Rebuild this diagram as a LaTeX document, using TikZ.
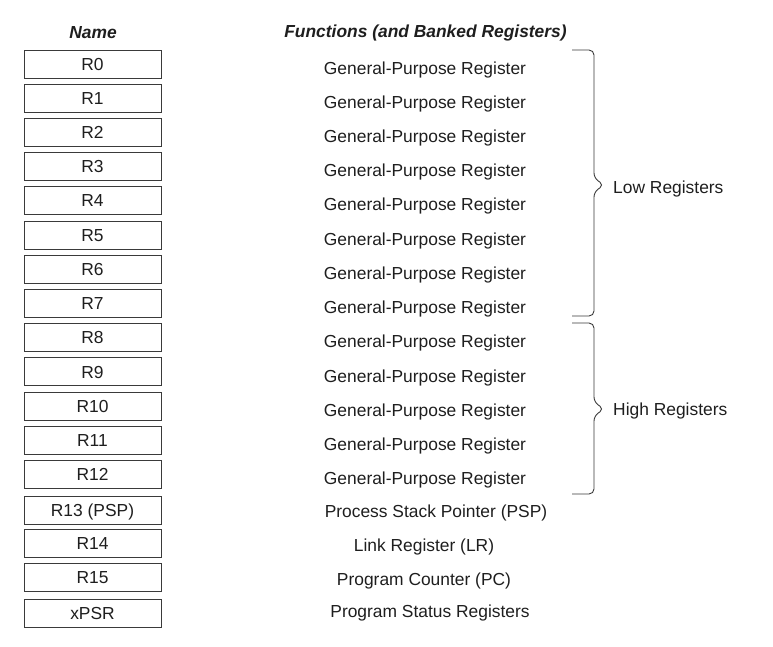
\documentclass[tikz,border=0pt]{standalone}
\usepackage{fontspec}
\setmainfont{Liberation Sans}
\usepackage{tikz}
\usetikzlibrary{positioning}

\definecolor{inkc}{HTML}{1E1E1E}
\definecolor{linec}{HTML}{3A3A3A}

\tikzset{
  regbox/.style={draw=linec, line width=0.9pt, minimum width=137pt, minimum height=28pt,
    text height=12.4pt, text depth=0pt, inner sep=0pt},
  fn/.style={text height=12.4pt, text depth=0pt, inner sep=0pt},
  head/.style={font=\fontsize{17.4}{20}\selectfont\bfseries\itshape},
  brace/.style={draw=linec, line width=0.9pt, rounded corners=5pt}
}

\begin{document}
\begin{tikzpicture}[x=1pt, y=-1pt, every node/.style={font=\fontsize{17.4}{20}\selectfont, text=inkc}]
	\useasboundingbox (0,0) rectangle (773,647);
	\node[head, text=inkc] (hname) at (93,33) {Name};
	\node[head, text=inkc] (hfunc) at (425.5,33) {Functions (and Banked Registers)};
	% general-purpose rows
	\foreach \i in {0,...,12} {
		\pgfmathsetmacro\yy{64+34.2*\i}
		\node[regbox] (r\i) at (92.5,\yy) {R\i};
		\node[fn] (f\i) at (425,\yy+4) {General-Purpose Register};
	}
	\node[regbox] (r13) at (92.5,510) {R13 (PSP)};
	\node[fn] (f13) at (436,511) {Process Stack Pointer (PSP)};
	\node[regbox] (r14) at (92.5,543) {R14};
	\node[fn] (f14) at (424,545) {Link Register (LR)};
	\node[regbox] (r15) at (92.5,577) {R15};
	\node[fn] (f15) at (424,579) {Program Counter (PC)};
	\node[regbox] (xpsr) at (92.5,613) {xPSR};
	\node[fn] (fpsr) at (430,611) {Program Status Registers};
	% braces
	\coordinate (lowtip) at (604,185);
	\coordinate (hightip) at (604,409);
	\draw[brace] (572,50) -- (594,50) -- (594,178) -- (lowtip) -- (594,192) -- (594,316) -- (572,316);
	\draw[brace] (572,323) -- (594,323) -- (594,402) -- (hightip) -- (594,416) -- (594,494) -- (572,494);
	\node[fn, anchor=west, right=9pt of lowtip, yshift=-2pt] (low) {Low Registers};
	\node[fn, anchor=west, right=9pt of hightip] (high) {High Registers};
\end{tikzpicture}
\end{document}
